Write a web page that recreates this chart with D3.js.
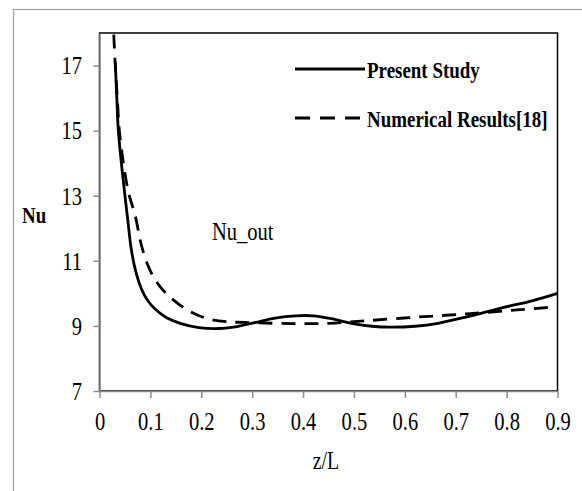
<!DOCTYPE html>
<html>
<head>
<meta charset="utf-8">
<script src="https://cdn.jsdelivr.net/npm/d3@7"></script>
<style>
	body { margin: 0; background: #fff; }
	text { font-family: "Liberation Serif", "Times New Roman", serif; fill: #000; }
	.axis path, .axis line { stroke: #8c8c8c; stroke-width: 1.5; }
	.line { fill: none; stroke: #000; stroke-width: 2.8; }
</style>
</head>
<body>
<svg width="582" height="491" id="chart"></svg>
<script>

	// values
	var xTicks = [0, 0.1, 0.2, 0.3, 0.4, 0.5, 0.6, 0.7, 0.8, 0.9];
	var yTicks = [7, 9, 11, 13, 15, 17];
	var seriesNames = ["Present Study", "Numerical Results[18]"];

	var presentZ  = [0.031, 0.034, 0.037, 0.043, 0.050, 0.056, 0.062, 0.070, 0.082, 0.096, 0.112, 0.132, 0.160, 0.195, 0.235, 0.270, 0.305, 0.345, 0.385, 0.420, 0.455, 0.495, 0.535, 0.575, 0.620, 0.665, 0.722, 0.787, 0.852, 0.900];
	var presentNu = [17.1, 16.0, 15.0, 14.0, 13.0, 12.2, 11.4, 10.75, 10.15, 9.75, 9.48, 9.25, 9.07, 8.95, 8.92, 8.98, 9.10, 9.24, 9.31, 9.31, 9.22, 9.08, 8.99, 8.96, 8.99, 9.08, 9.28, 9.54, 9.78, 10.0];

	var numericalZ  = [0.028, 0.031, 0.035, 0.039, 0.047, 0.057, 0.070, 0.083, 0.099, 0.119, 0.145, 0.178, 0.211, 0.250, 0.302, 0.381, 0.450, 0.525, 0.623, 0.722, 0.820, 0.900];
	var numericalNu = [17.95, 17.0, 16.0, 15.0, 14.0, 13.1, 12.4, 11.44, 10.72, 10.21, 9.80, 9.44, 9.23, 9.13, 9.10, 9.07, 9.08, 9.16, 9.27, 9.37, 9.49, 9.59];

	var squeeze = 0.79; // text in the picture is tall and narrow

	var svg = d3.select("svg#chart"),
		margin = { top: 33, right: 24.5, bottom: 100, left: 99.5 },
		width = +svg.attr("width") - margin.left - margin.right,
		height = +svg.attr("height") - margin.top - margin.bottom;

	// outer frame
	svg.append("rect")
		.attr("x", 13.5).attr("y", 9.5)
		.attr("width", 620).attr("height", 520)
		.attr("fill", "none")
		.attr("stroke", "#a0a0a0")
		.attr("stroke-width", 1.2);

	var g = svg.append("g").attr("transform", "translate(" + margin.left + "," + margin.top + ")");

	var x = d3.scaleLinear().domain([0, 0.9]).range([0, width]);
	var y = d3.scaleLinear().domain([7, 18]).range([height, 0]);

	// plot border
	g.append("rect")
		.attr("width", width).attr("height", height)
		.attr("fill", "none")
		.attr("stroke", "#000")
		.attr("stroke-width", 1.5);

	// add the x Axis
	var xAxis = g.append("g")
		.attr("class", "axis")
		.attr("transform", "translate(0," + height + ")")
		.call(d3.axisBottom(x).tickValues(xTicks).tickSize(7).tickSizeOuter(0).tickPadding(14)
			.tickFormat(function(d) { return d3.format(".1~f")(d); }));
	xAxis.selectAll("text")
		.style("font-size", "26px")
		.attr("transform", "scale(" + squeeze + ",1)");

	// add the y Axis
	var yAxis = g.append("g")
		.attr("class", "axis")
		.call(d3.axisLeft(y).tickValues(yTicks).tickSize(6).tickSizeOuter(0).tickPadding(11.5));
	yAxis.selectAll("text")
		.style("font-size", "26px")
		.attr("x", -17.5 / squeeze)
		.attr("transform", "scale(" + squeeze + ",1)");
	xAxis.select(".domain").attr("stroke", "#8c8c8c");
	yAxis.select(".domain").attr("stroke", "#8c8c8c");

	var line = d3.line()
		.x(function(d) { return x(d[0]); })
		.y(function(d) { return y(d[1]); })
		.curve(d3.curveCatmullRom.alpha(0.5));

	var present = d3.zip(presentZ, presentNu);
	var numerical = d3.zip(numericalZ, numericalNu);

	g.append("path")
		.datum(numerical)
		.attr("class", "line")
		.attr("stroke-dasharray", "14,9")
		.attr("d", line);

	g.append("path")
		.datum(present)
		.attr("class", "line")
		.attr("d", line);

	// helper for squeezed text
	function label(parent, tx, ty, str, size, weight, anchor) {
		return parent.append("text")
			.attr("transform", "translate(" + tx + "," + ty + ") scale(" + squeeze + ",1)")
			.attr("text-anchor", anchor || "start")
			.style("font-size", size + "px")
			.style("font-weight", weight || "normal")
			.text(str);
	}

	// legend
	var legend = svg.append("g");
	legend.append("line")
		.attr("x1", 295).attr("x2", 365).attr("y1", 69).attr("y2", 69)
		.attr("stroke", "#000").attr("stroke-width", 3);
	legend.append("line")
		.attr("x1", 295).attr("x2", 366).attr("y1", 118).attr("y2", 118)
		.attr("stroke", "#000").attr("stroke-width", 3)
		.attr("stroke-dasharray", "15,10");
	label(legend, 367, 78, seriesNames[0], 24, "bold");
	label(legend, 367, 127, seriesNames[1], 24, "bold");

	// axis titles and note
	label(svg, 22, 223, "Nu", 24, "bold");
	label(svg, 212, 240, "Nu_out", 26);
	label(svg, 326, 469, "z/L", 25, "normal", "middle");

</script>
</body>
</html>
